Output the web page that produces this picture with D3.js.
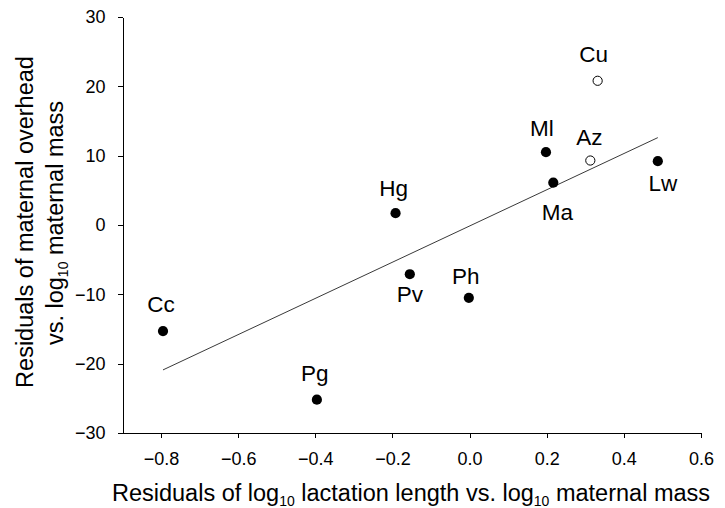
<!DOCTYPE html>
<html>
<head>
<meta charset="utf-8">
<script src="https://cdn.jsdelivr.net/npm/d3@7"></script>
<style>
    body { margin: 0; background: #fff; }
    svg { display: block; font-family: "Liberation Sans", Arial, Helvetica, sans-serif; }
    .axis path, .axis line { stroke: #000; stroke-width: 1; shape-rendering: crispEdges; }
    .axis text { font-size: 18px; fill: #000; }
    .title { font-size: 23.5px; fill: #000; }
    .label { font-size: 22.5px; fill: #000; }
    .fit { stroke: #222; stroke-width: 0.9; fill: none; }
</style>
</head>
<body>
<svg id="chart" width="725" height="508"></svg>
<script>
'use strict';

// species codes and residuals
var species = ['Cc', 'Pg', 'Hg', 'Pv', 'Ph', 'Ml', 'Ma', 'Az', 'Cu', 'Lw'];
var lactationResid = [-0.795, -0.396, -0.192, -0.155, -0.002, 0.198, 0.217, 0.313, 0.332, 0.488];
var overheadResid = [-15.3, -25.2, 1.7, -7.1, -10.5, 10.5, 6.1, 9.3, 20.8, 9.2];
var openSpecies = ['Az', 'Cu'];

// regression line end points
var fitX = [-0.795, 0.488];
var fitY = [-20.9, 12.6];

var xTicks = [-0.8, -0.6, -0.4, -0.2, 0.0, 0.2, 0.4, 0.6];
var yTicks = [-30, -20, -10, 0, 10, 20, 30];

// label placement relative to its point: dx, dy (baseline)
var labelOffset = {
    Cc: [-2, -19], Pg: [-2, -19], Hg: [-2, -17], Pv: [0, 28], Ph: [-3, -14],
    Ml: [-4, -16], Ma: [4, 37], Az: [-1, -16], Cu: [-4, -19], Lw: [5, 30]
};

var svg = d3.select('#chart');

var x = d3.scaleLinear().domain([-0.9, 0.6]).range([122.5, 701]);
var y = d3.scaleLinear().domain([-30, 30]).range([433, 17]);

svg.append('g').attr('class', 'axis')
    .attr('transform', 'translate(0,433)')
    .call(d3.axisBottom(x).tickValues(xTicks).tickFormat(d3.format('.1f'))
        .tickSize(5).tickSizeOuter(0).tickPadding(14));

svg.append('g').attr('class', 'axis')
    .attr('transform', 'translate(122.5,0)')
    .call(d3.axisLeft(y).tickValues(yTicks).tickFormat(d3.format('d'))
        .tickSize(5).tickSizeOuter(0).tickPadding(12));

// fitted line
svg.append('path').attr('class', 'fit')
    .attr('d', d3.line()(fitX.map(function (v, i) { return [x(v), y(fitY[i])]; })));

var points = species.map(function (name, i) {
    return { name: name, x: lactationResid[i], y: overheadResid[i], open: openSpecies.indexOf(name) >= 0 };
});

var g = svg.selectAll('.pt').data(points).enter().append('g').attr('class', 'pt');

g.append('circle')
    .attr('cx', function (d) { return x(d.x); })
    .attr('cy', function (d) { return y(d.y); })
    .attr('r', function (d) { return d.open ? 4.6 : 5.1; })
    .attr('fill', function (d) { return d.open ? '#fff' : '#000'; })
    .attr('stroke', '#000')
    .attr('stroke-width', function (d) { return d.open ? 1 : 0; });

g.append('text').attr('class', 'label')
    .attr('text-anchor', 'middle')
    .attr('x', function (d) { return x(d.x) + labelOffset[d.name][0]; })
    .attr('y', function (d) { return y(d.y) + labelOffset[d.name][1]; })
    .text(function (d) { return d.name; });

// axis titles, with subscript "10"
function titleText(sel, parts) {
    var shift = 0;
    parts.forEach(function (p) {
        var t = sel.append('tspan').text(p.t);
        if (p.sub) {
            t.attr('font-size', '14px').attr('dy', 5);
            shift = -5;
        } else if (shift) {
            t.attr('dy', shift);
            shift = 0;
        }
    });
}

var xt = svg.append('text').attr('class', 'title')
    .attr('text-anchor', 'middle').attr('x', 411).attr('y', 501);
titleText(xt, [{ t: 'Residuals of log' }, { t: '10', sub: true },
    { t: ' lactation length vs. log' }, { t: '10', sub: true }, { t: ' maternal mass' }]);

var yt1 = svg.append('text').attr('class', 'title')
    .attr('text-anchor', 'middle').attr('transform', 'translate(33,222) rotate(-90)');
titleText(yt1, [{ t: 'Residuals of maternal overhead' }]);

var yt2 = svg.append('text').attr('class', 'title')
    .attr('text-anchor', 'middle').attr('transform', 'translate(63,223) rotate(-90)');
titleText(yt2, [{ t: 'vs. log' }, { t: '10', sub: true }, { t: ' maternal mass' }]);
</script>
</body>
</html>
